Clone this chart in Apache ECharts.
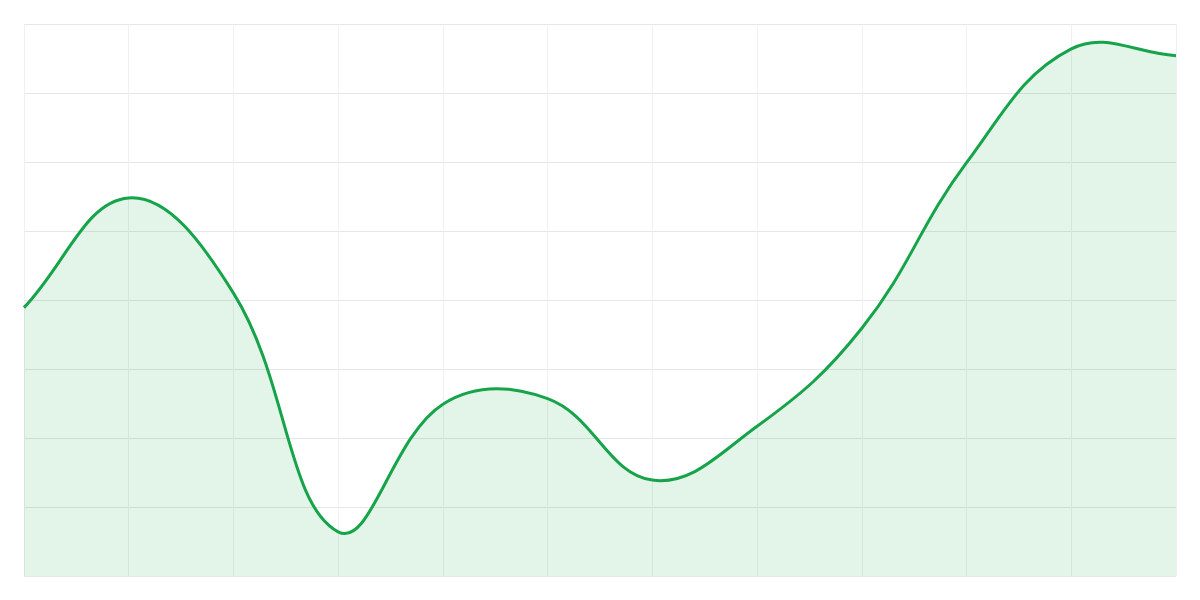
<!DOCTYPE html>
<html>
<head>
<meta charset="utf-8">
<title>ECharts</title>
<style>
    html, body { margin: 0; padding: 0; background: #fff; }
    #main { width: 1200px; height: 600px; }
</style>
</head>
<body>
<div id="main"></div>
<script src="https://cdn.jsdelivr.net/npm/echarts@6/dist/echarts.min.js"></script>
<script type="text/javascript">
    // values
    var categories = ['1', '2', '3', '4', '5', '6', '7', '8', '9', '10', '11', '12'];
    var values = [38.9, 54.8, 41, 6.4, 24.9, 25.7, 13.9, 21.7, 35.9, 59.9, 76.4, 75.4];

    var lineColor = '#16a34a';
    var areaColor = 'rgba(22,163,74,0.12)';
    var tension = 0.4;

    // cardinal-style spline through the points, control points not clamped
    function buildPath(pts) {
        var cps = [];
        for (var i = 0; i < pts.length; i++) {
            var cur = pts[i];
            var prev = pts[i - 1] || cur;
            var next = pts[i + 1] || cur;
            var d01 = Math.sqrt(Math.pow(cur[0] - prev[0], 2) + Math.pow(cur[1] - prev[1], 2));
            var d12 = Math.sqrt(Math.pow(next[0] - cur[0], 2) + Math.pow(next[1] - cur[1], 2));
            var s01 = d01 / (d01 + d12) || 0;
            var s12 = d12 / (d01 + d12) || 0;
            var fa = tension * s01, fb = tension * s12;
            cps.push({
                prev: [cur[0] - fa * (next[0] - prev[0]), cur[1] - fa * (next[1] - prev[1])],
                next: [cur[0] + fb * (next[0] - prev[0]), cur[1] + fb * (next[1] - prev[1])]
            });
        }
        var d = 'M' + pts[0][0] + ' ' + pts[0][1];
        for (var j = 0; j < pts.length - 1; j++) {
            var a = cps[j].next, b = cps[j + 1].prev, p = pts[j + 1];
            d += ' C' + a[0] + ' ' + a[1] + ' ' + b[0] + ' ' + b[1] + ' ' + p[0] + ' ' + p[1];
        }
        return d;
    }

    function renderCurve(params, api) {
        if (params.dataIndex !== 0) return null;
        var pts = values.map(function (v, i) { return api.coord([i, v]); });
        var line = buildPath(pts);
        var base = api.coord([0, 0])[1];
        var area = line + ' L' + pts[pts.length - 1][0] + ' ' + base + ' L' + pts[0][0] + ' ' + base + ' Z';
        return {
            type: 'group',
            children: [{
                type: 'path',
                shape: { pathData: area },
                style: { fill: areaColor, stroke: null }
            }, {
                type: 'path',
                shape: { pathData: line },
                style: { fill: null, stroke: lineColor, lineWidth: 3 }
            }]
        };
    }

    var myChart = echarts.init(document.getElementById('main'));
    var option = {
        backgroundColor: '#fff',
        animation: false,
        grid: {
            left: 24,
            right: 24,
            top: 24,
            bottom: 24
        },
        xAxis: {
            type: 'category',
            boundaryGap: false,
            data: categories,
            axisLine: { show: false },
            axisTick: { show: false },
            axisLabel: { show: false },
            splitLine: {
                show: true,
                lineStyle: { color: '#f0f0f0', width: 1 }
            }
        },
        yAxis: {
            type: 'value',
            min: 0,
            max: 80,
            interval: 10,
            axisLine: { show: false },
            axisTick: { show: false },
            axisLabel: { show: false },
            splitLine: {
                show: true,
                lineStyle: { color: '#e6e6e6', width: 1 }
            }
        },
        series: [{
            type: 'custom',
            renderItem: renderCurve,
            data: values.map(function (v, i) { return [i, v]; }),
            encode: { x: 0, y: 1 }
        }]
    };
    myChart.setOption(option, true);
</script>
</body>
</html>
